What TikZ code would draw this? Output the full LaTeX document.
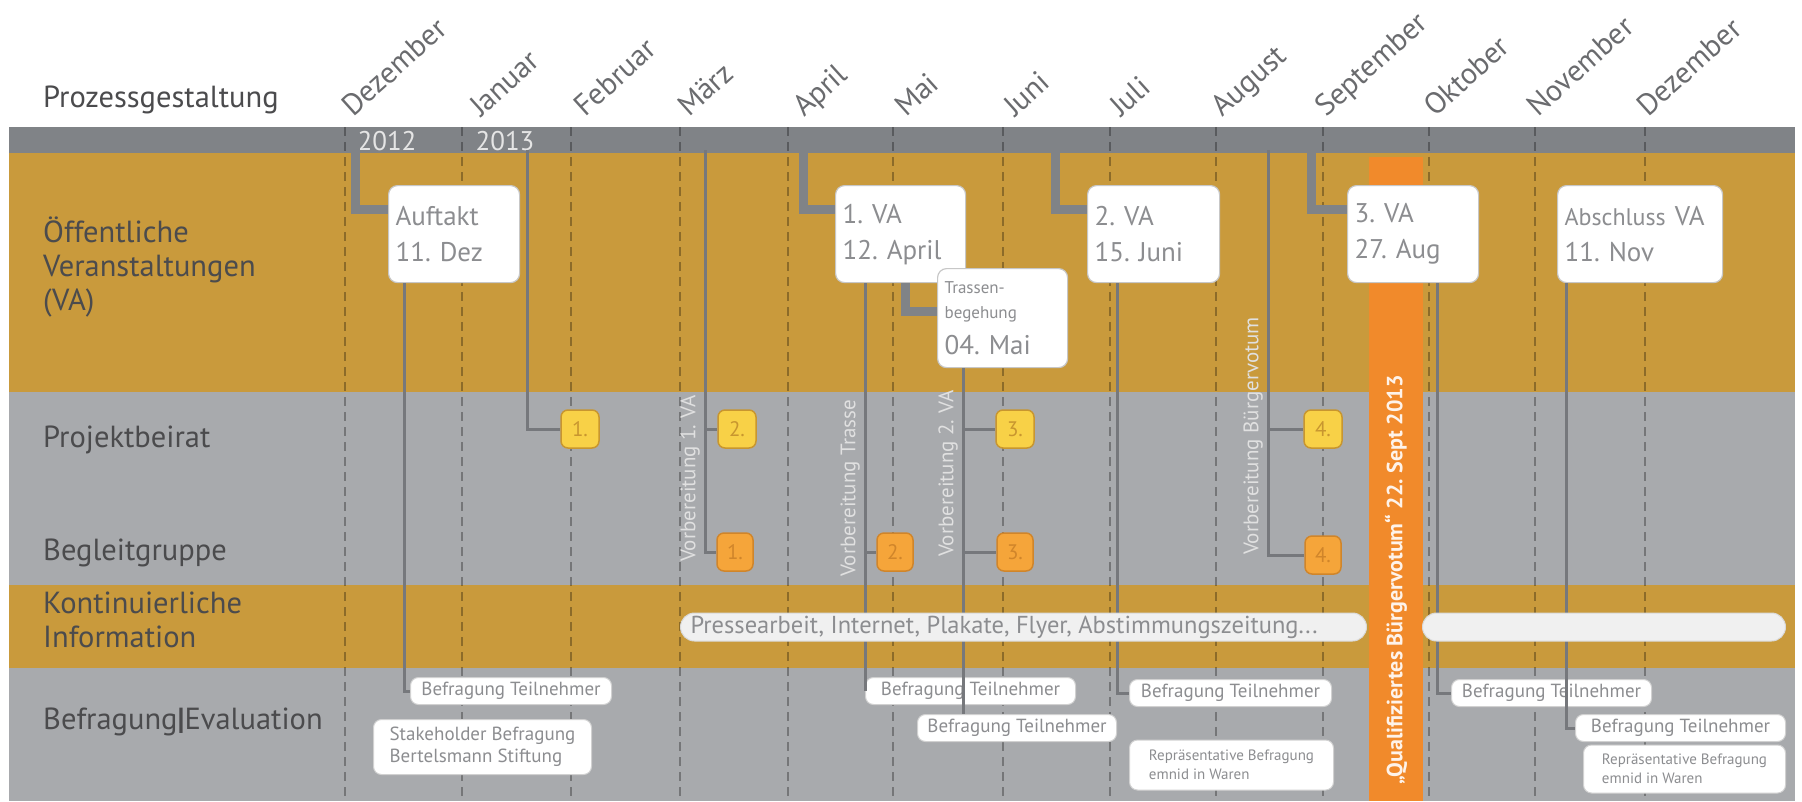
\documentclass[tikz,border=0pt]{standalone}
\usepackage{fontspec}
\setmainfont{PT Sans}
\usetikzlibrary{positioning}
\frenchspacing
\begin{document}
\begin{tikzpicture}[x=1pt,y=-1pt,
  lane/.style={anchor=west,align=left,inner sep=0pt,text=lanetext,font=\fontsize{30.5}{34}\selectfont},
  month/.style={anchor=base west,rotate=42,inner sep=0pt,text=monthtext,font=\fontsize{30}{30}\selectfont},
  year/.style={inner sep=0pt,text=white!90!black,font=\fontsize{27}{27}\selectfont},
  monthline/.style={black,opacity=0.3,line width=1.3pt,dash pattern=on 9pt off 6pt},
  feed/.style={barcolor,line width=9pt},
  link/.style={linkcolor,line width=3pt},
  vabox/.style={anchor=north west,draw=black!22,line width=1.2pt,fill=white,rounded corners=9pt,
    inner xsep=7pt,inner ysep=4pt,minimum height=97pt,text width=#1,align=left,text=boxtext,
    font=\fontsize{27}{36}\selectfont},
  pbbox/.style={fill=pbcolor,draw=pbedge,line width=1.5pt,rounded corners=7pt,minimum width=38pt,
    minimum height=38pt,inner sep=0pt,text=pbedge,font=\fontsize{21}{21}\selectfont},
  bgbox/.style={fill=bgcolor,draw=bgedge,line width=1.5pt,rounded corners=7pt,minimum width=36pt,
    minimum height=38pt,inner sep=0pt,text=bgedge,font=\fontsize{21}{21}\selectfont},
  befbox/.style={anchor=west,draw=black!18,line width=1pt,fill=white,rounded corners=8pt,
    inner xsep=6pt,inner ysep=0pt,minimum height=27pt,align=left,text=boxtext,
    font=\fontsize{19}{22}\selectfont},
  presse/.style={anchor=west,draw=black!15,line width=1pt,fill=white!94!black,rounded corners=14pt,
    inner xsep=10pt,inner ysep=0pt,minimum height=28pt,text=boxtext,font=\fontsize{24.5}{26}\selectfont},
  vorb/.style={anchor=south west,rotate=90,inner sep=0pt,text=white!88!black,font=\fontsize{21}{21}\selectfont}]
 \definecolor{goldband}{HTML}{C99A3C}
 \definecolor{greyband}{HTML}{A8AAAD}
 \definecolor{barcolor}{HTML}{808387}
 \definecolor{votecolor}{HTML}{F18A2B}
 \definecolor{pbcolor}{HTML}{F8D147}
 \definecolor{pbedge}{HTML}{C8962F}
 \definecolor{bgcolor}{HTML}{F5A53A}
 \definecolor{bgedge}{HTML}{D0852A}
 \definecolor{lanetext}{HTML}{4B4B4D}
 \definecolor{monthtext}{HTML}{6A6B6E}
 \definecolor{boxtext}{HTML}{8C8D90}
 \definecolor{linkcolor}{HTML}{76787C}
 \useasboundingbox (0,0) rectangle (1802,801);
 \fill [barcolor] (9,127) rectangle (1795,153);
 \fill [goldband] (9,153) rectangle (1795,392);
 \fill [greyband] (9,392) rectangle (1795,585);
 \fill [goldband] (9,585) rectangle (1795,668);
 \fill [greyband] (9,668) rectangle (1795,801);
 \foreach \mx/\lx/\mname in {345/353/Dezember,462/481/Januar,571/585/Februar,680/689/März,
   788/804/April,893/906/Mai,1003/1015/Juni,1110/1121/Juli,1216/1222/August,
   1323/1326/September,1429/1435/Oktober,1535/1538/November,1645/1648/Dezember}
 {
  \draw [monthline] (\mx,127) -- (\mx,801);
  \node [month] at (\lx,118) {\mname};
 }
 \node [lane] (prozess) at (43,100) {Prozessgestaltung};
 \node [year] (y2012) at (387,141) {2012};
 \node [year] (y2013) at (505,141) {2013};
 \node [lane] (oeff) at (43,267) {Öffentliche\\Veranstaltungen\\(VA)};
 \node [lane] (beirat) at (43,440) {Projektbeirat};
 \node [lane] (begleit) at (43,553) {Begleitgruppe};
 \node [lane] (kont) at (43,620) {Kontinuierliche\\Information};
 \node [lane] (befr) at (43,722) {Befragung\textbf{|}Evaluation};
 \fill [votecolor] (1369,157) rectangle (1423,801);
 \node [rotate=90,inner sep=0pt,text=white!90!votecolor,font=\bfseries\fontsize{22}{22}\selectfont]
   (votum) at (1396,580) {„Qualifiziertes Bürgervotum“ 22. Sept 2013};
 \node [vabox=117pt] (auftakt) at (388,185) {Auftakt\\11. Dez};
 \node [vabox=116pt] (va1) at (835,185) {1. VA\\12. April};
 \node [vabox=116pt,minimum height=99pt] (trassen) at (937,268)
   {{\fontsize{17}{25}\selectfont Trassen-\\begehung\par}04. Mai};
 \node [vabox=118pt] (va2) at (1087,185) {2. VA\\15. Juni};
 \node [vabox=117pt] (va3) at (1347,185) {3. VA\\27. Aug};
 \node [vabox=151pt] (absch) at (1557,185) {{\fontsize{24}{36}\selectfont Abschluss} VA\\11. Nov};
 \node [pbbox] (pb1) at (580,429) {1.};
 \node [pbbox] (pb2) at (737,429) {2.};
 \node [pbbox] (pb3) at (1015,429) {3.};
 \node [pbbox] (pb4) at (1323,429) {4.};
 \node [bgbox] (bg1) at (735,552) {1.};
 \node [bgbox] (bg2) at (895,552) {2.};
 \node [bgbox] (bg3) at (1015,552) {3.};
 \node [bgbox] (bg4) at (1323,555) {4.};
 \node [befbox,minimum width=201pt] (befdez) at (410,691) {Befragung Teilnehmer};
 \node [befbox,minimum width=210pt] (befapr) at (865,691) {Befragung Teilnehmer};
 \node [befbox,minimum width=199pt] (befmai) at (917,728) {Befragung Teilnehmer};
 \node [befbox,minimum width=202pt] (befjul) at (1129,693) {Befragung Teilnehmer};
 \node [befbox,minimum width=200pt] (befokt) at (1451,693) {Befragung Teilnehmer};
 \node [befbox,minimum width=210pt] (befnov) at (1575,728) {Befragung Teilnehmer};
 \node [befbox,minimum width=218pt,minimum height=55pt] (stake) at (373,747)
   {Stakeholder Befragung\\Bertelsmann Stiftung};
 \node [befbox,minimum width=204pt,minimum height=50pt,font=\fontsize{15}{19}\selectfont] (repjul)
   at (1129,765) {Repräsentative Befragung\\emnid in Waren};
 \node [befbox,minimum width=202pt,minimum height=48pt,font=\fontsize{15}{19}\selectfont] (repnov)
   at (1583,769) {Repräsentative Befragung\\emnid in Waren};
 \coordinate (t-dez) at (355,140);
 \coordinate (t-jan) at (527,150);
 \coordinate (t-vor1) at (705,150);
 \coordinate (t-apr) at (803,140);
 \coordinate (t-jun) at (1055,140);
 \coordinate (t-vorb) at (1268,150);
 \coordinate (t-aug) at (1311,140);
 \coordinate (l-dez) at ([xshift=16pt]auftakt.south west);
 \coordinate (l-trasse) at ([xshift=30pt]va1.south west);
 \coordinate (l-vor2) at ([xshift=26pt]trassen.south west);
 \coordinate (l-jul) at ([xshift=30pt]va2.south west);
 \coordinate (l-okt) at ([xshift=90pt]va3.south west);
 \coordinate (l-nov) at ([xshift=9pt]absch.south west);
 \draw [link] (l-dez) |- (befdez.west);
 \draw [link] (t-jan) |- (pb1.west);
 \draw [link] (t-vor1) |- (bg1.west);
 \draw [link] (t-vor1 |- pb2) -- (pb2.west);
 \draw [link] (l-trasse) |- (befapr.west);
 \draw [link] (l-trasse |- bg2) -- (bg2.west);
 \draw [link] (l-vor2) -- (l-vor2 |- befmai.north);
 \draw [link] (l-vor2 |- pb3) -- (pb3.west);
 \draw [link] (l-vor2 |- bg3) -- (bg3.west);
 \draw [link] (l-jul) |- (befjul.west);
 \draw [link] (t-vorb) |- (bg4.west);
 \draw [link] (t-vorb |- pb4) -- (pb4.west);
 \draw [link] (l-okt) |- (befokt.west);
 \draw [link] (l-nov) |- (befnov.west);
 \draw [feed] (t-dez) |- ([yshift=25pt]auftakt.west);
 \draw [feed] (t-apr) |- ([yshift=25pt]va1.west);
 \draw [feed] ([xshift=5pt]va1.south) |- ([yshift=7pt]trassen.west);
 \draw [feed] (t-jun) |- ([yshift=25pt]va2.west);
 \draw [feed] (t-aug) |- ([yshift=25pt]va3.west);
 \node [vorb] (vlab1) at (700,562) {Vorbereitung 1. VA};
 \node [vorb] (vlab2) at (860,577) {Vorbereitung Trasse};
 \node [vorb] (vlab3) at (958,557) {Vorbereitung 2. VA};
 \node [vorb] (vlab4) at (1263,555) {Vorbereitung Bürgervotum};
 \node [presse] (presse) at (680,627)
   {\makebox[666pt][l]{Pressearbeit, Internet, Plakate, Flyer, Abstimmungszeitung...}};
 \node [presse,minimum width=363pt] (presse2) at (1422,627) {};
\end{tikzpicture}
\end{document}
